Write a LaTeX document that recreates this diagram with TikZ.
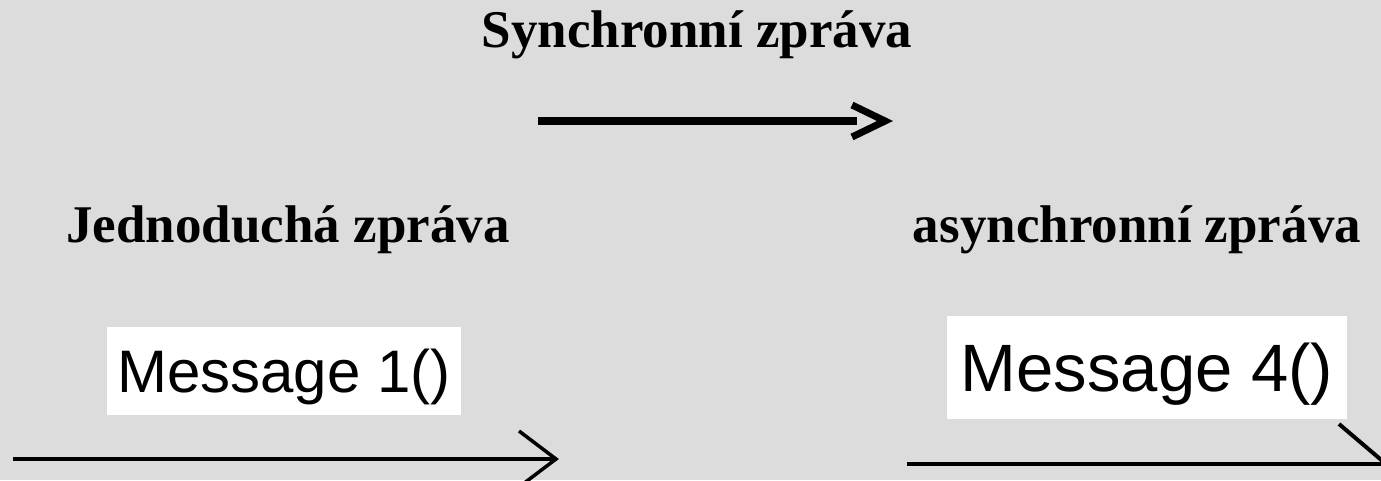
\documentclass[tikz,border=0pt]{standalone}
\usepackage{fontspec}
\setmainfont{Liberation Serif}
\newfontfamily\arialfont{Liberation Sans}
\definecolor{bg}{HTML}{DCDCDC}
\tikzset{
  title/.style={anchor=base, inner sep=0pt, font=\fontsize{53}{60}\selectfont\bfseries},
  msgbox/.style={fill=white, draw=none, inner sep=0pt, anchor=north west},
  msgtext/.style={anchor=base, inner sep=0pt},
  conn/.style={line cap=butt, line join=miter},
}
\begin{document}
\begin{tikzpicture}[x=1pt,y=-1pt]
\useasboundingbox (0,0) rectangle (1381,480);
\fill[bg] (0,0) rectangle (1381,480);
% titles
\node[title] (tsync) at (697,47) {Synchronní zpráva};
\node[title] (tsimple) at (288,242) {Jednoduchá zpráva};
\node[title] (tasync) at (1137,242) {asynchronní zpráva};
% message boxes
\node[msgbox, minimum width=354pt, minimum height=88pt] (m1box) at (107,327) {};
\node[msgtext, font=\arialfont\fontsize{60}{66}\selectfont] (m1) at (284,392) {Message 1()};
\node[msgbox, minimum width=400pt, minimum height=103pt] (m4box) at (947,316) {};
\node[msgtext, font=\arialfont\fontsize{67}{72}\selectfont] (m4) at (1147,391) {Message 4()};
% synchronous arrow
\coordinate (s0) at (538,121);
\coordinate (s1) at (857,121);
\coordinate (sa) at (852,105);
\coordinate (st) at (885,121);
\coordinate (sb) at (852,137);
\draw[conn, line width=7.5pt] (s0) -- (s1);
\draw[conn, line width=7pt] (sa) -- (st) -- (sb);
% simple arrow
\coordinate (p0) at (13,459);
\coordinate (pt) at (556,459);
\coordinate (pa) at (519,431);
\coordinate (pb) at (519,487);
\draw[conn, line width=3.5pt] (p0) -- (pt);
\draw[conn, line width=3.5pt] (pa) -- (pt) -- (pb);
% asynchronous arrow
\coordinate (q0) at (907,464);
\coordinate (qt) at (1386,464);
\coordinate (qa) at (1339,424);
\draw[conn, line width=4pt] (q0) -- (qt);
\draw[conn, line width=4pt] (qa) -- (qt);
\end{tikzpicture}
\end{document}
